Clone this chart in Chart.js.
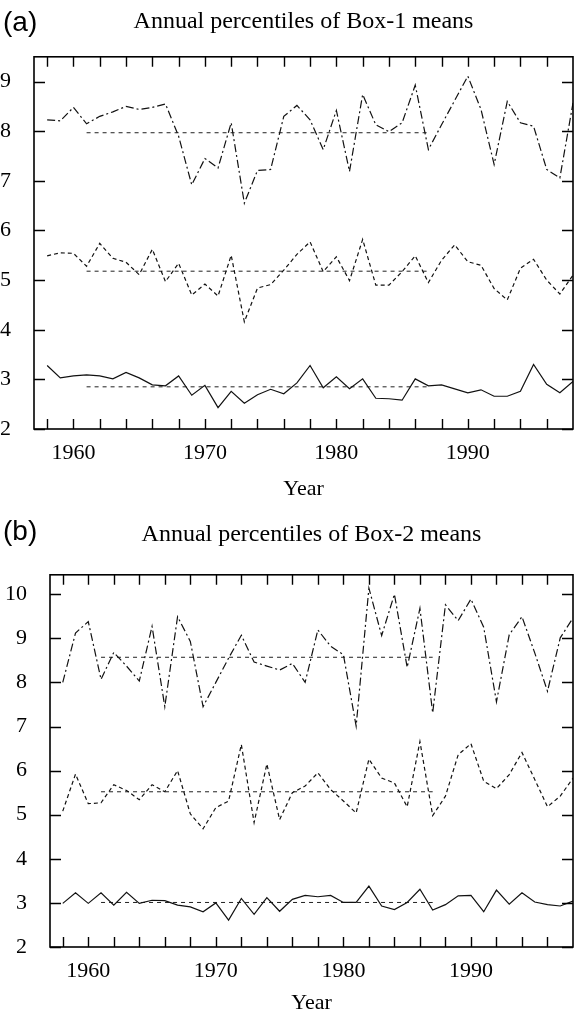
<!DOCTYPE html>
<html>
<head>
<meta charset="utf-8">
<script src="https://cdn.jsdelivr.net/npm/chart.js@4.4.1/dist/chart.umd.min.js"></script>
<style>
  html, body { margin: 0; padding: 0; background: #fff; }
  #wrap { position: relative; width: 574px; height: 1016px; }
  canvas { position: absolute; left: 0; }
</style>
</head>
<body>
<div id="wrap">
  <canvas id="chartA" width="574" height="508" style="top:0"></canvas>
  <canvas id="chartB" width="574" height="508" style="top:508px"></canvas>
</div>
<script>
// yillar
const years = [1958, 1959, 1960, 1961, 1962, 1963, 1964, 1965, 1966, 1967,
  1968, 1969, 1970, 1971, 1972, 1973, 1974, 1975, 1976, 1977,
  1978, 1979, 1980, 1981, 1982, 1983, 1984, 1985, 1986, 1987,
  1988, 1989, 1990, 1991, 1992, 1993, 1994, 1995, 1996, 1997, 1998];

const xTickYears = [1958, 1960, 1962, 1964, 1966, 1968, 1970, 1972, 1974, 1976,
  1978, 1980, 1982, 1984, 1986, 1988, 1990, 1992, 1994, 1996];
const decadeLabels = [1960, 1970, 1980, 1990];
const yTicksA = [2, 3, 4, 5, 6, 7, 8, 9];
const yTicksB = [2, 3, 4, 5, 6, 7, 8, 9, 10];

// ortalama cizgisinin donemi
const meanStart = 1961;
const meanEnd = 1987;

// Box-1
const box1Upper = [8.23, 8.21, 8.48, 8.15, 8.30, 8.39, 8.50, 8.44, 8.48, 8.55,
  7.90, 6.92, 7.45, 7.26, 8.17, 6.55, 7.21, 7.23, 8.30, 8.52,
  8.23, 7.63, 8.42, 7.19, 8.74, 8.13, 7.99, 8.17, 8.93, 7.63,
  8.13, 8.62, 9.11, 8.44, 7.33, 8.60, 8.17, 8.10, 7.23, 7.06, 8.57];
const box1Middle = [5.49, 5.55, 5.54, 5.28, 5.74, 5.44, 5.36, 5.11, 5.62, 4.97,
  5.34, 4.70, 4.92, 4.68, 5.50, 4.16, 4.84, 4.91, 5.20, 5.52,
  5.77, 5.17, 5.47, 4.99, 5.82, 4.90, 4.90, 5.17, 5.49, 4.95,
  5.40, 5.71, 5.37, 5.30, 4.83, 4.60, 5.24, 5.42, 5.00, 4.72, 5.10];
const box1Lower = [3.28, 3.03, 3.07, 3.09, 3.07, 3.01, 3.14, 3.03, 2.89, 2.87,
  3.07, 2.68, 2.88, 2.43, 2.76, 2.52, 2.69, 2.80, 2.71, 2.93,
  3.28, 2.83, 3.05, 2.81, 3.01, 2.62, 2.61, 2.58, 3.01, 2.87,
  2.89, 2.81, 2.73, 2.79, 2.66, 2.66, 2.76, 3.30, 2.90, 2.73, 2.96];
const box1Means = [7.97, 5.18, 2.85];

// Box-2
const box2Upper = [8.00, 9.12, 9.38, 8.07, 8.68, 8.37, 8.03, 9.27, 7.45, 9.49,
  8.93, 7.45, 8.00, 8.55, 9.07, 8.46, 8.37, 8.28, 8.43, 8.00,
  9.19, 8.82, 8.63, 7.01, 10.14, 9.06, 10.00, 8.34, 9.68, 7.31,
  9.76, 9.40, 9.89, 9.25, 7.56, 9.08, 9.49, 8.67, 7.80, 9.01, 9.46];
const box2Middle = [5.08, 5.92, 5.25, 5.27, 5.68, 5.55, 5.34, 5.68, 5.52, 6.00,
  5.02, 4.68, 5.16, 5.31, 6.59, 4.82, 6.15, 4.89, 5.50, 5.65,
  5.95, 5.57, 5.31, 5.04, 6.26, 5.83, 5.72, 5.18, 6.66, 4.98,
  5.42, 6.36, 6.61, 5.76, 5.59, 5.91, 6.41, 5.80, 5.18, 5.42, 5.83];
const box2Lower = [2.99, 3.23, 2.99, 3.23, 2.95, 3.24, 2.99, 3.06, 3.05, 2.95,
  2.91, 2.80, 3.00, 2.61, 3.10, 2.74, 3.12, 2.81, 3.08, 3.17,
  3.14, 3.17, 3.01, 3.01, 3.38, 2.93, 2.85, 3.01, 3.31, 2.84,
  2.96, 3.16, 3.17, 2.80, 3.29, 2.97, 3.23, 3.02, 2.96, 2.93, 3.04];
const box2Means = [8.57, 5.52, 3.01];

const serif = "'Liberation Serif', 'Times New Roman', serif";

// cerceve ve iceri bakan tick'ler
const frameTicks = {
  id: "frameTicks",
  afterDraw(chart) {
    const { ctx, chartArea: a, scales: { x, y } } = chart;
    ctx.save();
    ctx.strokeStyle = "#000";
    ctx.lineWidth = 1.6;
    ctx.strokeRect(a.left, a.top, a.right - a.left, a.bottom - a.top);
    ctx.lineWidth = 1.4;
    ctx.beginPath();
    x.ticks.forEach(t => {
      const px = Math.round(x.getPixelForValue(t.value)) + 0.5;
      ctx.moveTo(px, a.bottom); ctx.lineTo(px, a.bottom - 10);
      ctx.moveTo(px, a.top); ctx.lineTo(px, a.top + 10);
    });
    y.ticks.forEach(t => {
      const py = Math.round(y.getPixelForValue(t.value)) + 0.5;
      ctx.moveTo(a.left, py); ctx.lineTo(a.left + 11, py);
      ctx.moveTo(a.right, py); ctx.lineTo(a.right - 11, py);
    });
    ctx.stroke();
    ctx.restore();
  }
};

// (a) / (b) etiketi
const panelLetter = {
  id: "panelLetter",
  afterDraw(chart, args, opts) {
    const ctx = chart.ctx;
    ctx.save();
    ctx.fillStyle = "#000";
    ctx.font = "28px 'Liberation Sans', Arial, sans-serif";
    ctx.textBaseline = "middle";
    ctx.textAlign = "left";
    ctx.fillText(opts.text, 3, opts.y);
    ctx.restore();
  }
};

function series(values, dash) {
  return {
    data: years.map((yr, i) => ({ x: yr, y: values[i] })),
    borderColor: "#111",
    borderWidth: 1.2,
    borderDash: dash,
    pointRadius: 0,
    fill: false,
    tension: 0
  };
}

function meanLine(v) {
  return {
    data: [{ x: meanStart, y: v }, { x: meanEnd, y: v }],
    borderColor: "#222",
    borderWidth: 1,
    borderDash: [4, 4],
    pointRadius: 0,
    fill: false
  };
}

function makePanel(id, cfg) {
  new Chart(document.getElementById(id), {
    type: "line",
    data: {
      datasets: [
        series(cfg.upper, [8, 3, 2, 3]),
        series(cfg.middle, [4, 3]),
        series(cfg.lower, []),
        meanLine(cfg.means[0]),
        meanLine(cfg.means[1]),
        meanLine(cfg.means[2])
      ]
    },
    options: {
      responsive: false,
      animation: false,
      devicePixelRatio: 1,
      layout: { padding: { left: 0, right: 1, top: 0, bottom: 0 } },
      plugins: {
        legend: { display: false },
        tooltip: { enabled: false },
        title: {
          display: true,
          text: cfg.title,
          fullSize: false,
          color: "#000",
          font: { family: serif, size: 24, weight: "normal" },
          padding: cfg.titlePad
        },
        panelLetter: { text: cfg.letter, y: cfg.letterY }
      },
      scales: {
        x: {
          type: "linear",
          min: 1957,
          max: 1998,
          afterBuildTicks: s => { s.ticks = xTickYears.map(v => ({ value: v })); },
          afterFit: s => { s.height = cfg.xHeight; },
          grid: { display: false },
          border: { display: false },
          ticks: {
            autoSkip: false,
            maxRotation: 0,
            padding: 3,
            color: "#000",
            font: { family: serif, size: 22 },
            callback: v => decadeLabels.includes(v) ? String(v) : ""
          },
          title: {
            display: true,
            text: "Year",
            color: "#000",
            font: { family: serif, size: 22 },
            padding: { top: 0, bottom: cfg.yearPad }
          }
        },
        y: {
          min: 2,
          max: cfg.yMax,
          afterBuildTicks: s => { s.ticks = cfg.yTicks.map(v => ({ value: v })); },
          afterFit: s => { s.width = cfg.yWidth; },
          grid: { display: false },
          border: { display: false },
          ticks: {
            padding: 15,
            color: "#000",
            font: { family: serif, size: 22 }
          }
        }
      }
    },
    plugins: [frameTicks, panelLetter]
  });
}

makePanel("chartA", {
  title: "Annual percentiles of Box-1 means",
  letter: "(a)", letterY: 23,
  upper: box1Upper, middle: box1Middle, lower: box1Lower, means: box1Means,
  yMax: 9.5, yTicks: yTicksA,
  yWidth: 34, xHeight: 79, yearPad: 6,
  titlePad: { top: 7, bottom: 21 }
});

makePanel("chartB", {
  title: "Annual percentiles of Box-2 means",
  letter: "(b)", letterY: 24,
  upper: box2Upper, middle: box2Middle, lower: box2Lower, means: box2Means,
  yMax: 10.44, yTicks: yTicksB,
  yWidth: 50, xHeight: 69, yearPad: 0,
  titlePad: { top: 12, bottom: 26 }
});
</script>
</body>
</html>
